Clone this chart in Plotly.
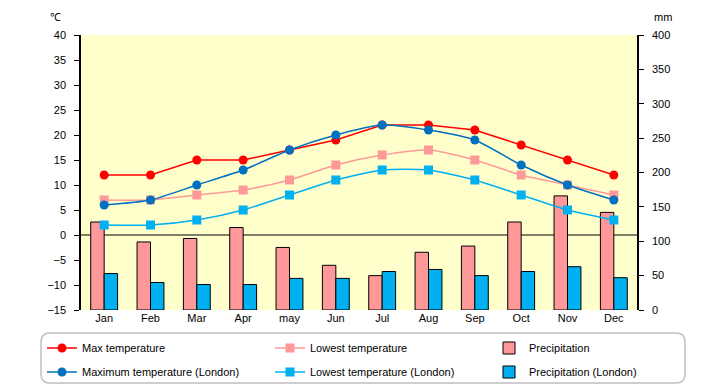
import plotly.graph_objects as go

months = ["Jan", "Feb", "Mar", "Apr", "may", "Jun", "Jul", "Aug", "Sep", "Oct", "Nov", "Dec"]
max_temp = [12, 12, 15, 15, 17, 19, 22, 22, 21, 18, 15, 12]
low_temp = [7, 7, 8, 9, 11, 14, 16, 17, 15, 12, 10, 8]
precip = [128, 99, 104, 120, 91, 65, 50, 84, 93, 128, 166, 142]
max_london = [6, 7, 10, 13, 17, 20, 22, 21, 19, 14, 10, 7]
low_london = [2, 2, 3, 5, 8, 11, 13, 13, 11, 8, 5, 3]
precip_london = [53, 40, 37, 37, 46, 46, 56, 59, 50, 56, 63, 47]

temp_ticks = list(range(-15, 45, 5))
mm_ticks = list(range(0, 450, 50))

FONT = "Liberation Sans"
OFF = 8                      # page body margin
W, H = 720 - OFF, 385 - OFF  # figure size
# plot area in screenshot pixels
L, R, T, B = 81, 637, 35, 310


def fx(x):
    return x - OFF


def fy(y):
    return y - OFF


def px(x):
    return (x - L) / (R - L)


def py(y):
    return (B - y) / (B - T)


def cx(x):
    return fx(x) / W


def cy(y):
    return 1 - fy(y) / H


fig = go.Figure()

fig.add_trace(go.Scatter(x=months, y=max_temp, name="Max temperature", yaxis="y2",
                         mode="lines+markers", line=dict(color="#FF0000", width=1.5),
                         marker=dict(symbol="circle", size=9, color="#FF0000"),
                         legend="legend"))
fig.add_trace(go.Scatter(x=months, y=low_temp, name="Lowest temperature", yaxis="y2",
                         mode="lines+markers", line=dict(color="#FF9999", width=1.5, shape="spline", smoothing=0.6),
                         marker=dict(symbol="square", size=9, color="#FF9999"),
                         legend="legend2"))
fig.add_trace(go.Bar(x=months, y=precip, name="Precipitation", yaxis="y",
                     marker=dict(color="#FF9999", line=dict(color="black", width=1)),
                     legend="legend3"))
fig.add_trace(go.Scatter(x=months, y=max_london, name="Maximum temperature (London)", yaxis="y2",
                         mode="lines+markers", line=dict(color="#0070C0", width=1.5, shape="spline", smoothing=0.6),
                         marker=dict(symbol="circle", size=9, color="#0070C0"),
                         legend="legend4"))
fig.add_trace(go.Scatter(x=months, y=low_london, name="Lowest temperature (London)", yaxis="y2",
                         mode="lines+markers", line=dict(color="#00B0F0", width=1.5, shape="spline", smoothing=0.6),
                         marker=dict(symbol="square", size=9, color="#00B0F0"),
                         legend="legend5"))
fig.add_trace(go.Bar(x=months, y=precip_london, name="Precipitation (London)", yaxis="y",
                     marker=dict(color="#00B0F0", line=dict(color="black", width=1)),
                     legend="legend6"))

# rounded legend box (screenshot pixels)
x0, x1, y0, y1, r = 41, 685, 333, 383, 9
path = (f"M {px(x0 + r)},{py(y0)} L {px(x1 - r)},{py(y0)} Q {px(x1)},{py(y0)} {px(x1)},{py(y0 + r)} "
        f"L {px(x1)},{py(y1 - r)} Q {px(x1)},{py(y1)} {px(x1 - r)},{py(y1)} "
        f"L {px(x0 + r)},{py(y1)} Q {px(x0)},{py(y1)} {px(x0)},{py(y1 - r)} "
        f"L {px(x0)},{py(y0 + r)} Q {px(x0)},{py(y0)} {px(x0 + r)},{py(y0)} Z")

legend_common = dict(orientation="h", xref="container", yref="container",
                     xanchor="left", yanchor="middle", itemwidth=30,
                     bgcolor="rgba(0,0,0,0)", font=dict(size=11))

# text start x of each legend column (screenshot px) and row centre y
col_text = [82, 310, 529]
row_y = [348, 372]
legends = {}
names = ["legend", "legend2", "legend3", "legend4", "legend5", "legend6"]
for i, nm in enumerate(names):
    row, col = divmod(i, 3)
    legends[nm] = dict(x=cx(col_text[col] - 40), y=cy(row_y[row]), **legend_common)

fig.update_layout(
    width=W, height=H,
    margin=dict(l=fx(L), r=W - fx(R), t=fy(T), b=H - fy(B), autoexpand=False),
    paper_bgcolor="white", plot_bgcolor="#FFFFCC",
    font=dict(family=FONT, size=11, color="black"),
    barmode="group", bargap=0.42, bargroupgap=0,
    xaxis=dict(showgrid=False, showline=False, ticks="", tickfont=dict(size=11),
               range=[-0.5, len(months) - 0.5]),
    yaxis=dict(side="right", range=[0, 400], tickvals=mm_ticks, showgrid=False,
               showline=True, linecolor="black", linewidth=1.5, ticks="outside",
               ticklen=5, tickcolor="black", zeroline=False, ticklabelstandoff=6),
    yaxis2=dict(side="left", overlaying="y", range=[-15, 40], tickvals=temp_ticks,
                showgrid=False, showline=True, linecolor="black", linewidth=1.5,
                ticks="outside", ticklen=5, tickcolor="black", zeroline=False,
                ticklabelstandoff=6),
    showlegend=True,
    **legends,
    shapes=[
        dict(type="line", xref="paper", x0=0, x1=1, yref="y2", y0=0, y1=0,
             line=dict(color="black", width=1), layer="below"),
        dict(type="path", xref="paper", yref="paper", path=path,
             line=dict(color="#BFBFBF", width=1.5), fillcolor="rgba(0,0,0,0)"),
    ],
    annotations=[
        dict(text="℃", xref="paper", yref="paper", x=px(55), y=py(17),
             xanchor="center", yanchor="middle", showarrow=False, font=dict(size=11)),
        dict(text="mm", xref="paper", yref="paper", x=px(663), y=py(17),
             xanchor="center", yanchor="middle", showarrow=False, font=dict(size=11)),
    ],
)

fig.write_html("out.html")
